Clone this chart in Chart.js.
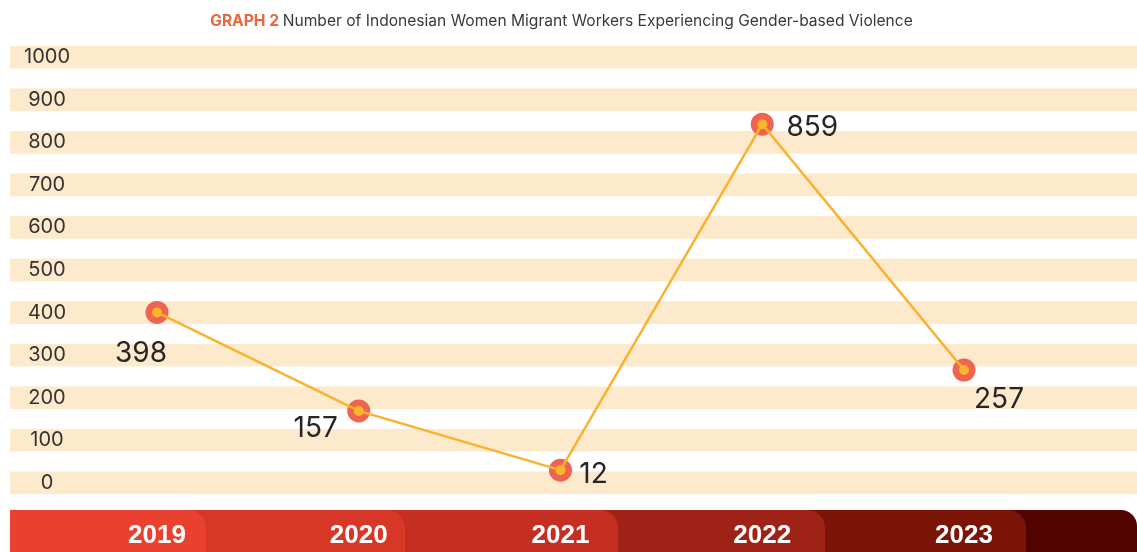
<!DOCTYPE html>
<html><head><meta charset="utf-8">
<script src="https://cdn.jsdelivr.net/npm/chart.js@4/dist/chart.umd.min.js"></script>
<style>html,body{margin:0;padding:0;background:#fff}canvas{display:block}</style>
</head><body>
<canvas id="c" width="1137" height="552"></canvas>
<script>
// ---- data ----
const years = ['2019', '2020', '2021', '2022', '2023'];
const victims = [398, 157, 12, 859, 257];
const yTicks = [0, 100, 200, 300, 400, 500, 600, 700, 800, 900, 1000];
const titleLead = 'GRAPH 2';
const titleText = 'Number of Indonesian Women Migrant Workers Experiencing Gender-based Violence';

// ---- layout / style ----
const labelOffsets = [[-16, 40], [-43, 16], [33, 3], [50, 2], [35, 28]];
const segColors = ['#ea4030', '#d63727', '#c42f22', '#9f2216', '#7b1507', '#540400'];
const segEnds = [206, 405, 618, 825, 1026, 1137];
const bandColor = '#fde9cb';

const decor = {
  id: 'decor',
  beforeDraw(chart) {
    const ctx = chart.ctx;
    const ys = chart.scales.y;
    ctx.save();
    ctx.fillStyle = '#ffffff';
    ctx.fillRect(0, 0, chart.width, chart.height);
    // bands
    ctx.fillStyle = bandColor;
    yTicks.forEach(v => {
      const y = ys.getPixelForValue(v);
      ctx.fillRect(10, y - 11.3, chart.width - 10, 22.6);
    });
    // bottom bar segments
    const top = 510, r = 18;
    for (let i = segEnds.length - 1; i >= 0; i--) {
      const end = segEnds[i];
      const rr = i === segEnds.length - 1 ? 16 : r;
      ctx.fillStyle = segColors[i];
      ctx.beginPath();
      ctx.moveTo(10, top);
      ctx.lineTo(end - rr, top);
      ctx.arcTo(end, top, end, top + rr, rr);
      ctx.lineTo(end, chart.height + 5);
      ctx.lineTo(10, chart.height + 5);
      ctx.closePath();
      ctx.fill();
    }
    // title
    const fLead = 'bold 15.6px Inter';
    const fRest = '15.6px Inter';
    ctx.font = fLead;
    const wLead = ctx.measureText(titleLead + ' ').width;
    ctx.font = fRest;
    const wRest = ctx.measureText(titleText).width;
    let x = 561.5 - (wLead + wRest) / 2;
    ctx.textBaseline = 'alphabetic';
    ctx.textAlign = 'left';
    ctx.font = fLead;
    ctx.fillStyle = '#e8673c';
    ctx.fillText(titleLead, x, 25.7);
    ctx.font = fRest;
    ctx.fillStyle = '#3a3a3a';
    ctx.fillText(titleText, x + wLead, 25.7);
    ctx.restore();
  },
  afterDatasetsDraw(chart) {
    const ctx = chart.ctx;
    const meta = chart.getDatasetMeta(1);
    ctx.save();
    ctx.font = '28px Inter';
    ctx.fillStyle = '#262626';
    ctx.textAlign = 'center';
    ctx.textBaseline = 'alphabetic';
    meta.data.forEach((pt, i) => {
      const [dx, dy] = labelOffsets[i];
      ctx.fillText(String(victims[i]), pt.x + dx, pt.y + dy + 10);
    });
    ctx.restore();
  }
};

new Chart(document.getElementById('c'), {
  type: 'line',
  data: {
    labels: years,
    datasets: [
      {
        data: victims, yAxisID: 'yData', showLine: false,
        pointRadius: 11.5, pointHoverRadius: 11.5,
        pointBackgroundColor: '#ef6450', pointBorderWidth: 0, borderWidth: 0,
        order: 2, clip: false
      },
      {
        data: victims, yAxisID: 'yData',
        borderColor: '#fbb22a', borderWidth: 2.5, tension: 0,
        pointRadius: 5, pointHoverRadius: 5,
        pointBackgroundColor: '#fbb52a', pointBorderWidth: 0,
        order: 1, clip: false
      }
    ]
  },
  options: {
    responsive: false,
    animation: false,
    devicePixelRatio: 1,
    layout: { padding: { left: 0, right: 173, top: 57.2, bottom: 0 } },
    plugins: { legend: { display: false }, tooltip: { enabled: false }, title: { display: false } },
    events: [],
    scales: {
      x: {
        type: 'category', offset: false,
        grid: { display: false, drawTicks: false },
        border: { display: false },
        ticks: { color: '#ffffff', font: { family: 'Liberation Sans', size: 26, weight: 'bold' }, padding: 37.5, autoSkip: false, maxRotation: 0 },
        afterFit(s) { s.height = 69.2; s.paddingLeft = 0; s.paddingRight = 0; }
      },
      y: {
        min: 0, max: 1000,
        grid: { display: false, drawTicks: false },
        border: { display: false },
        ticks: {
          stepSize: 100, color: '#333333', crossAlign: 'center', padding: 87,
          font: { family: 'Inter', size: 20 },
          callback: v => yTicks.includes(v) ? String(v) : ''
        },
        afterFit(s) { s.width = 157; s.paddingTop = 0; s.paddingBottom = 0; }
      },
      yData: { display: false, min: -19, max: 1023 }
    }
  },
  plugins: [decor]
});
</script>
</body></html>
